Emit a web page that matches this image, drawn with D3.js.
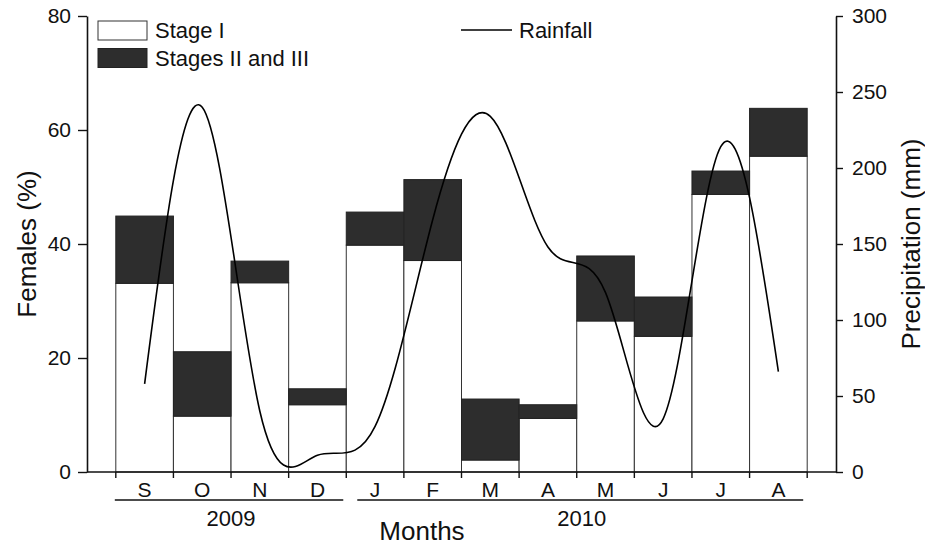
<!DOCTYPE html>
<html>
<head>
<meta charset="utf-8">
<script src="https://cdn.jsdelivr.net/npm/d3@7"></script>
<style>
  html, body { margin: 0; padding: 0; background: #fff; }
  svg { display: block; font-family: Arial, "Liberation Sans", sans-serif; }
</style>
</head>
<body>
<svg id="chart" width="925" height="548"></svg>
<script>
// Monthly data, Sep 2009 – Aug 2010
const months = ["S", "O", "N", "D", "J", "F", "M", "A", "M", "J", "J", "A"];
const stageI = [33.1, 9.8, 33.2, 11.8, 39.8, 37.1, 2.1, 9.4, 26.5, 23.8, 48.7, 55.4];      // % females, Stage I
const stageII_III = [11.8, 11.3, 3.8, 2.8, 5.8, 14.2, 10.7, 2.4, 11.4, 6.9, 4.1, 8.4];   // % females, Stages II and III
const rainfall = [58, 240, 40, 11, 30, 166, 234, 148, 118, 35, 214, 66];                  // mm
const years = [{ label: "2009", from: 0, to: 3 }, { label: "2010", from: 4, to: 11 }];
const leftTicks = [0, 20, 40, 60, 80];
const rightTicks = [0, 50, 100, 150, 200, 250, 300];

const svg = d3.select("#chart");
const m = { left: 87, right: 836, top: 16, bottom: 472 };

const idx = months.map((d, i) => i);
const x = d3.scaleBand().domain(idx).range([m.left, m.right]).paddingInner(0).paddingOuter(0.5);
const yL = d3.scaleLinear().domain([0, 80]).range([m.bottom, m.top]);
const yR = d3.scaleLinear().domain([0, 300]).range([m.bottom, m.top]);

const dark = "#2d2d2d";
const edge = "#333";
const ink = "#111";

// Stacked bars
const g = svg.append("g");
g.selectAll("rect.s1").data(idx).join("rect")
  .attr("x", i => x(i)).attr("width", x.bandwidth())
  .attr("y", i => yL(stageI[i])).attr("height", i => yL(0) - yL(stageI[i]))
  .attr("fill", "#fff").attr("stroke", edge).attr("stroke-width", 1);
g.selectAll("rect.s2").data(idx).join("rect")
  .attr("x", i => x(i)).attr("width", x.bandwidth())
  .attr("y", i => yL(stageI[i] + stageII_III[i]))
  .attr("height", i => yL(stageI[i]) - yL(stageI[i] + stageII_III[i]))
  .attr("fill", dark).attr("stroke", "#222").attr("stroke-width", 1);

// Rainfall curve
const line = d3.line()
  .x((d, i) => x(i) + x.bandwidth() / 2)
  .y(d => yR(d))
  .curve(d3.curveNatural);
svg.append("path").datum(rainfall)
  .attr("d", line).attr("fill", "none").attr("stroke", "#000").attr("stroke-width", 1.6);

// Axes
const axL = svg.append("g").attr("transform", `translate(${m.left},0)`)
  .call(d3.axisLeft(yL).tickValues(leftTicks).tickSize(9).tickPadding(7).tickSizeOuter(0));
const axR = svg.append("g").attr("transform", `translate(${m.right},0)`)
  .call(d3.axisRight(yR).tickValues(rightTicks).tickSize(7).tickPadding(9).tickSizeOuter(0));
[axL, axR].forEach(a => {
  a.select(".domain").attr("stroke", ink).attr("stroke-width", 1.6);
  a.selectAll(".tick line").attr("stroke", ink).attr("stroke-width", 1.4);
  a.selectAll("text").attr("font-size", 21).attr("fill", ink)
    .attr("font-family", "Arial, 'Liberation Sans', sans-serif");
});

// Bottom axis: baseline, boundary ticks, month labels
const bottom = svg.append("g");
bottom.append("line").attr("x1", m.left).attr("x2", m.right)
  .attr("y1", m.bottom).attr("y2", m.bottom).attr("stroke", ink).attr("stroke-width", 1.6);
const bounds = idx.map(i => x(i)).concat([x(11) + x.bandwidth()]);
bottom.selectAll("line.b").data(bounds).join("line")
  .attr("x1", d => d).attr("x2", d => d).attr("y1", m.bottom).attr("y2", m.bottom + 6)
  .attr("stroke", ink).attr("stroke-width", 1.4);
bottom.selectAll("text.m").data(idx).join("text")
  .attr("x", i => x(i) + x.bandwidth() / 2).attr("y", 497)
  .attr("text-anchor", "middle").attr("font-size", 21).attr("fill", ink)
  .text(i => months[i]);

// Year brackets
years.forEach(yr => {
  const x0 = x(yr.from) - 1 + (yr.from > 0 ? 12 : 0);
  const x1 = x(yr.to) + x.bandwidth() - (yr.from > 0 ? 4 : 3);
  bottom.append("line").attr("x1", x0).attr("x2", x1).attr("y1", 500).attr("y2", 500)
    .attr("stroke", ink).attr("stroke-width", 1.4);
  bottom.append("text").attr("x", (x(yr.from) + x(yr.to) + x.bandwidth()) / 2 + (yr.from > 0 ? 5 : 0))
    .attr("y", 526).attr("text-anchor", "middle").attr("font-size", 22).attr("fill", ink)
    .text(yr.label);
});

// Axis titles
svg.append("text").attr("x", 422).attr("y", 540).attr("text-anchor", "middle")
  .attr("font-size", 26).attr("fill", ink).text("Months");
svg.append("text").attr("transform", `translate(36,${(m.top + m.bottom) / 2}) rotate(-90)`)
  .attr("text-anchor", "middle").attr("font-size", 26).attr("fill", ink).text("Females (%)");
svg.append("text").attr("transform", `translate(920,${(m.top + m.bottom) / 2}) rotate(-90)`)
  .attr("text-anchor", "middle").attr("font-size", 26).attr("fill", ink).text("Precipitation (mm)");

// Legend
const lg = svg.append("g");
lg.append("rect").attr("x", 98).attr("y", 21).attr("width", 49).attr("height", 19)
  .attr("fill", "#fff").attr("stroke", edge);
lg.append("text").attr("x", 155).attr("y", 38).attr("font-size", 22).attr("fill", ink).text("Stage I");
lg.append("rect").attr("x", 98).attr("y", 48.5).attr("width", 49).attr("height", 19)
  .attr("fill", dark).attr("stroke", "#222");
lg.append("text").attr("x", 155).attr("y", 66).attr("font-size", 22).attr("fill", ink).text("Stages II and III");
lg.append("line").attr("x1", 461).attr("x2", 512).attr("y1", 30).attr("y2", 30)
  .attr("stroke", "#000").attr("stroke-width", 1.6);
lg.append("text").attr("x", 519).attr("y", 38).attr("font-size", 22).attr("fill", ink).text("Rainfall");
</script>
</body>
</html>
